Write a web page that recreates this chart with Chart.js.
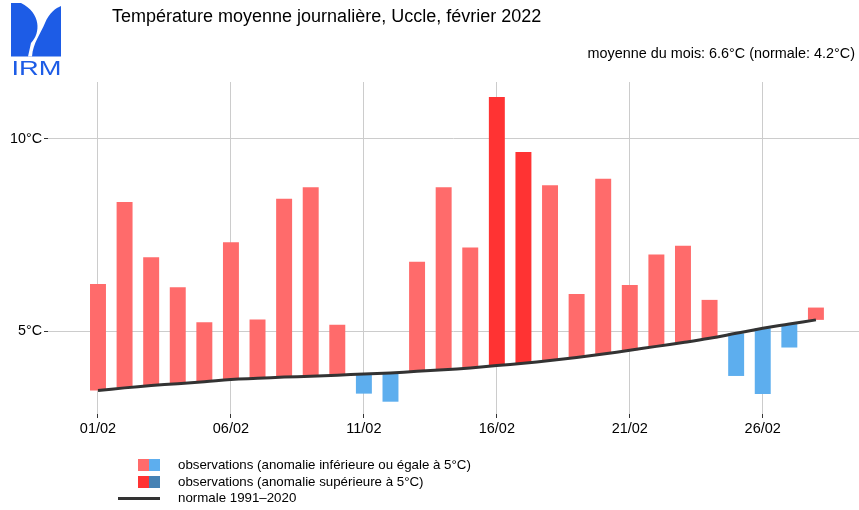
<!DOCTYPE html>
<html>
<head>
<meta charset="utf-8">
<script src="https://cdn.jsdelivr.net/npm/chart.js@4"></script>
<style>
  body { margin: 0; background: #fff; font-family: "Liberation Sans", Arial, sans-serif; }
  #wrap { position: relative; width: 859px; height: 510px; }
  #title { position: absolute; left: 112px; top: 6px; font-size: 18px; color: #000; }
  #sub { position: absolute; right: 4px; top: 45px; font-size: 14.4px; color: #000; }
  #logo { position: absolute; left: 11px; top: 3px; }
</style>
</head>
<body>
<div id="wrap">
  <canvas id="chart" width="859" height="510"></canvas>
  <svg id="logo" width="52" height="74" viewBox="0 0 52 74">
    <rect x="0" y="0" width="50" height="53.5" fill="#1d5ce6"/>
    <path d="M10 0 C30 10 30 30 20 40 L17 53.5 L21 53.5 C22 40 30 30 34 20 C38 10 45 5 50 3 L50 0 Z" fill="#fff"/>
    <text x="0.5" y="72" font-family="Liberation Sans, Arial, sans-serif" font-size="21" fill="#1d5ce6" textLength="50" lengthAdjust="spacingAndGlyphs">IRM</text>
  </svg>
  <div id="title">Température moyenne journalière, Uccle, février 2022</div>
  <div id="sub">moyenne du mois: 6.6°C (normale: 4.2°C)</div>
</div>
<script>
const days = [1,2,3,4,5,6,7,8,9,10,11,12,13,14,15,16,17,18,19,20,21,22,23,24,25,26,27,28];
const observed = [6.22, 8.36, 6.92, 6.14, 5.23, 7.31, 5.30, 8.44, 8.74, 5.16, 3.37, 3.16, 6.80, 8.74,
                  7.17, 11.09, 9.66, 8.79, 5.96, 8.96, 6.20, 6.99, 7.22, 5.81, 3.83, 3.36, 4.57, 5.61];
const normal = [3.45, 3.52, 3.58, 3.63, 3.68, 3.74, 3.77, 3.80, 3.82, 3.85, 3.88, 3.91, 3.95, 3.99,
                4.04, 4.10, 4.16, 4.23, 4.31, 4.40, 4.50, 4.60, 4.70, 4.81, 4.94, 5.07, 5.18, 5.29];
const xTicks = [1, 6, 11, 16, 21, 26];
const xTickLabels = ['01/02', '06/02', '11/02', '16/02', '21/02', '26/02'];
const yTicks = [5, 10];

const colors = { redLight: '#ff6b6b', redDark: '#ff3333', blueLight: '#5daeee', blueDark: '#4682b4' };
const font = '"Liberation Sans", Arial, sans-serif';

const barColors = observed.map((v, i) => {
  const a = v - normal[i];
  if (a >= 0) return a > 5 ? colors.redDark : colors.redLight;
  return a < -5 ? colors.blueDark : colors.blueLight;
});

const legendPlugin = {
  id: 'legendBox',
  afterDraw(chart) {
    const ctx = chart.ctx;
    ctx.save();
    ctx.fillStyle = colors.redLight; ctx.fillRect(138, 459, 11, 12);
    ctx.fillStyle = colors.blueLight; ctx.fillRect(149, 459, 11, 12);
    ctx.fillStyle = colors.redDark; ctx.fillRect(138, 476, 11, 12);
    ctx.fillStyle = colors.blueDark; ctx.fillRect(149, 476, 11, 12);
    ctx.strokeStyle = '#333'; ctx.lineWidth = 3;
    ctx.beginPath(); ctx.moveTo(118, 498.5); ctx.lineTo(160, 498.5); ctx.stroke();
    ctx.fillStyle = '#000';
    ctx.font = '13.3px ' + font;
    ctx.textBaseline = 'middle';
    ctx.fillText('observations (anomalie inférieure ou égale à 5°C)', 178, 465);
    ctx.fillText('observations (anomalie supérieure à 5°C)', 178, 482);
    ctx.fillText('normale 1991–2020', 178, 498);
    ctx.restore();
  }
};

new Chart(document.getElementById('chart').getContext('2d'), {
  data: {
    datasets: [{
      type: 'line',
      data: days.map((d, i) => ({ x: d, y: normal[i] })),
      borderColor: '#333333',
      borderWidth: 3,
      pointRadius: 0,
      tension: 0.4,
      order: 0
    }, {
      type: 'bar',
      data: days.map((d, i) => ({ x: d, y: [normal[i], observed[i]] })),
      backgroundColor: barColors,
      barPercentage: 0.6,
      categoryPercentage: 1,
      order: 1
    }]
  },
  options: {
    responsive: false,
    animation: false,
    layout: { padding: { top: 82, right: 0, left: 0, bottom: 0 } },
    plugins: { legend: { display: false }, tooltip: { enabled: false } },
    scales: {
      x: {
        type: 'linear',
        offset: false,
        min: -0.88,
        max: 29.62,
        afterBuildTicks: s => { s.ticks = xTicks.map(v => ({ value: v })); },
        afterFit: s => { s.height = 96; },
        ticks: {
          callback: v => xTickLabels[xTicks.indexOf(v)],
          color: '#000',
          font: { size: 14.5, family: font },
          padding: 2,
          maxRotation: 0
        },
        grid: { offset: false, color: '#cccccc', tickColor: '#333', tickLength: 4 },
        border: { display: false }
      },
      y: {
        min: 2.84,
        max: 11.48,
        afterBuildTicks: s => { s.ticks = yTicks.map(v => ({ value: v })); },
        afterFit: s => { s.width = 48; },
        ticks: {
          callback: v => v + '°C',
          color: '#000',
          font: { size: 14.3, family: font },
          padding: 2
        },
        grid: { color: '#cccccc', tickColor: '#333', tickLength: 4 },
        border: { display: false }
      }
    }
  },
  plugins: [legendPlugin]
});
</script>
</body>
</html>
